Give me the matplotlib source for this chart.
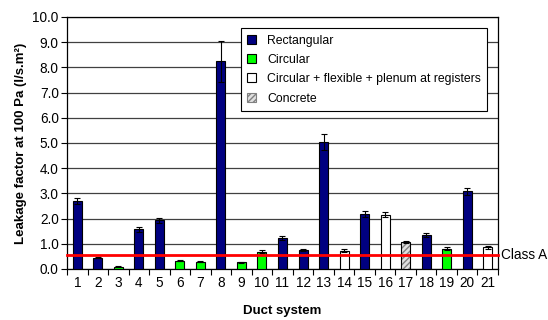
import numpy as np
import matplotlib
matplotlib.use("Agg")
import matplotlib.pyplot as plt
from matplotlib.patches import Patch
from matplotlib.transforms import blended_transform_factory

plt.rcParams['font.family'] = ['Liberation Sans', 'DejaVu Sans']

# leakage factor per duct system (l/s.m2 at 100 Pa) and error bars
systems = list(range(1, 22))
leakage = [2.70, 0.45, 0.08, 1.58, 1.93, 0.32, 0.28, 8.24, 0.27, 0.69, 1.24,
           0.75, 5.04, 0.73, 2.17, 2.16, 1.07, 1.35, 0.81, 3.08, 0.86]
errors = [0.12, 0.03, 0.02, 0.10, 0.10, 0.02, 0.02, 0.80, 0.02, 0.05, 0.07,
          0.04, 0.30, 0.07, 0.12, 0.10, 0.05, 0.08, 0.05, 0.15, 0.05]
duct_type = ['rect', 'rect', 'circ', 'rect', 'rect', 'circ', 'circ', 'rect', 'circ', 'circ', 'rect',
             'rect', 'rect', 'flex', 'rect', 'flex', 'conc', 'rect', 'circ', 'rect', 'flex']
class_a = 0.57

styles = {
    'rect': dict(color='#000080', label='Rectangular'),
    'circ': dict(color='#00ff00', label='Circular'),
    'flex': dict(color='#ffffff', label='Circular + flexible + plenum at registers'),
    'conc': dict(color='#d9d9d9', label='Concrete'),
}

fig = plt.figure(figsize=(5.48, 3.2), dpi=100)
ax = fig.add_axes([67 / 548, 51 / 320, 431 / 548, 252 / 320])

w = 0.44
for x, v, e, t in zip(systems, leakage, errors, duct_type):
    st = styles[t]
    if t == 'conc':
        ax.bar(x, v, w, color='#e0e0e0', edgecolor='#808080', hatch='//////', linewidth=0, zorder=3)
        ax.bar(x, v, w, color='none', edgecolor='black', linewidth=0.8, zorder=4)
    else:
        ax.bar(x, v, w, color=st['color'], edgecolor='black', linewidth=0.8, zorder=3)
    ax.errorbar(x, v, yerr=e, fmt='none', ecolor='black', elinewidth=0.8, capsize=2.5,
                capthick=0.8, zorder=5)

ax.axhline(class_a, color='#ff0000', linewidth=2, zorder=6, clip_on=False)
ax.text(1.006, class_a, 'Class A', transform=blended_transform_factory(ax.transAxes, ax.transData),
        va='center', ha='left', fontsize=9.8)

ax.set_xlim(0.5, 21.5)
ax.set_ylim(0, 10)
ax.set_yticks(np.arange(0, 11, 1))
ax.set_yticklabels([f'{v:.1f}' for v in np.arange(0, 11, 1)], fontsize=9.8)
ax.set_xticks(systems)
ax.set_xticklabels([str(s) for s in systems], fontsize=9.8)
ax.set_xticks(np.arange(0.5, 22, 1), minor=True)
ax.tick_params(axis='x', which='major', length=0, pad=5)
ax.tick_params(axis='x', which='minor', length=4, width=0.8)
ax.tick_params(axis='y', length=4, width=0.8, pad=2)
ax.yaxis.grid(True, color='#404040', linewidth=0.9, zorder=0)
ax.set_axisbelow(True)
for s in ax.spines.values():
    s.set_linewidth(0.9)

ax.set_xlabel('Duct system', fontsize=9.5, fontweight='bold', labelpad=11)
ax.set_ylabel('Leakage factor at 100 Pa (l/s.m²)', fontsize=9.5, fontweight='bold', labelpad=4)

handles = [
    Patch(facecolor=styles['rect']['color'], edgecolor='black', linewidth=0.8),
    Patch(facecolor=styles['circ']['color'], edgecolor='black', linewidth=0.8),
    Patch(facecolor='white', edgecolor='black', linewidth=0.8),
    Patch(facecolor='#e0e0e0', edgecolor='#808080', hatch='//////', linewidth=0.8),
]
labels = [styles[k]['label'] for k in ['rect', 'circ', 'flex', 'conc']]
leg = ax.legend(handles, labels, loc='upper right', bbox_to_anchor=(0.989, 0.979), fontsize=8.8,
                frameon=True, fancybox=False, edgecolor='black', framealpha=1,
                handlelength=0.75, handleheight=0.75, handletextpad=0.9, borderpad=0.5,
                labelspacing=0.6)
leg.get_frame().set_linewidth(0.8)

fig.savefig('out.png', dpi=100)
